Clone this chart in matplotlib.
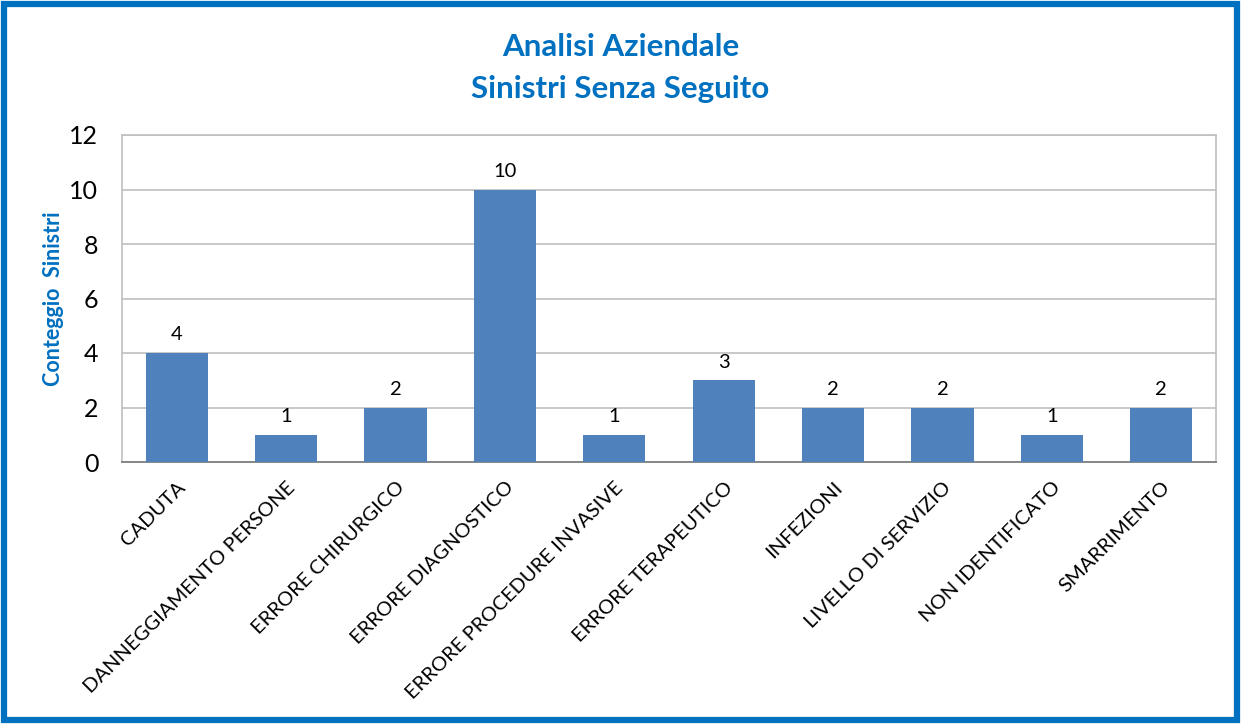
"""Bar chart: Analisi Aziendale - Sinistri Senza Seguito."""

import matplotlib
matplotlib.use("Agg")
import matplotlib.pyplot as plt
from matplotlib.patches import Rectangle

categories = [
    "CADUTA",
    "DANNEGGIAMENTO PERSONE",
    "ERRORE CHIRURGICO",
    "ERRORE DIAGNOSTICO",
    "ERRORE PROCEDURE INVASIVE",
    "ERRORE TERAPEUTICO",
    "INFEZIONI",
    "LIVELLO DI SERVIZIO",
    "NON IDENTIFICATO",
    "SMARRIMENTO",
]
counts = [4, 1, 2, 10, 1, 3, 2, 2, 1, 2]
y_ticks = [0, 2, 4, 6, 8, 10, 12]

plt.rcParams["font.family"] = ["Lato", "DejaVu Sans"]

blue = "#0070C0"
bar_color = "#4F81BD"
grid_color = "#BFBFBF"

fig = plt.figure(figsize=(12.41, 7.24), dpi=100)
ax = fig.add_axes([122 / 1241, 1 - 462 / 724, (1216 - 122) / 1241, (462 - 135) / 724])

x = list(range(len(categories)))
bars = ax.bar(x, counts, width=0.57, color=bar_color, zorder=3)
for rect, val in zip(bars, counts):
    ax.annotate(str(val), (rect.get_x() + rect.get_width() / 2, val),
                xytext=(0, 7), textcoords="offset points",
                ha="center", va="bottom", fontsize=14.5, color="black")

ax.set_xlim(-0.5, len(categories) - 0.5)
ax.set_ylim(0, 12)
ax.set_yticks(y_ticks)
ax.tick_params(axis="y", labelsize=18, length=0, pad=17)
ax.set_xticks(x)
ax.set_xticklabels(categories, rotation=45, ha="right", rotation_mode="anchor", fontsize=14.5)
ax.tick_params(axis="x", length=0, pad=12)
ax.grid(True, axis="y", color=grid_color, linewidth=1.2, zorder=0)

for side in ("top", "right", "left"):
    ax.spines[side].set_color(grid_color)
    ax.spines[side].set_linewidth(1.2)
ax.spines["bottom"].set_color("#868686")
ax.spines["bottom"].set_linewidth(1.4)

ax.set_ylabel("Conteggio  Sinistri", fontsize=15.5, fontweight="bold", color=blue, labelpad=4)

fig.text(0.5, 1 - 47 / 724, "Analisi Aziendale", ha="center", va="center",
         fontsize=22.5, fontweight="bold", color=blue)
fig.text(0.5, 1 - 89 / 724, "Sinistri Senza Seguito", ha="center", va="center",
         fontsize=22.5, fontweight="bold", color=blue)

fig.patches.append(Rectangle((4 / 1241, 4 / 724), 1 - 8 / 1241, 1 - 8 / 724,
                             transform=fig.transFigure, fill=False,
                             edgecolor=blue, linewidth=4.5))

fig.savefig("out.png", dpi=100)
